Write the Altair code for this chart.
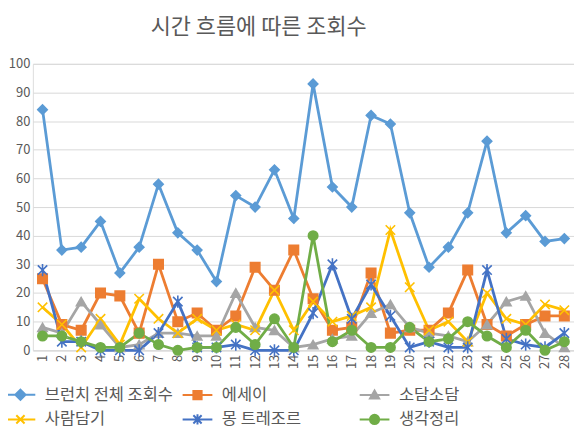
import altair as alt
import pandas as pd

days = list(range(1, 29))
series_names = ["브런치 전체 조회수", "에세이", "소담소담", "사람담기", "몽 트레조르", "생각정리"]
colors = ["#5B9BD5", "#ED7D31", "#A5A5A5", "#FFC000", "#4472C4", "#70AD47"]

total = [84, 35, 36, 45, 27, 36, 58, 41, 35, 24, 54, 50, 63, 46, 93, 57, 50, 82, 79, 48, 29, 36, 48, 73, 41, 47, 38, 39]
essay = [25, 9, 7, 20, 19, 6, 30, 10, 13, 7, 12, 29, 21, 35, 18, 7, 8, 27, 6, 7, 7, 13, 28, 9, 5, 9, 12, 12]
sodam = [8, 6, 17, 9, 1, 2, 6, 6, 5, 5, 20, 8, 7, 1, 2, 4, 5, 13, 16, 8, 6, 5, 3, 9, 17, 19, 6, 1]
saram = [15, 9, 1, 11, 2, 18, 11, 6, 11, 7, 9, 7, 21, 7, 17, 10, 12, 15, 42, 22, 7, 10, 3, 20, 11, 9, 16, 14]
mon = [28, 3, 3, 0, 0, 0, 6, 17, 1, 1, 2, 0, 0, 0, 13, 30, 11, 23, 12, 1, 3, 1, 1, 28, 4, 2, 1, 6]
think = [5, 5, 3, 1, 1, 6, 2, 0, 1, 1, 8, 2, 11, 1, 40, 3, 7, 1, 1, 8, 3, 4, 10, 5, 1, 7, 0, 3]

all_values = [total, essay, sodam, saram, mon, think]
rows = []
for name, vals in zip(series_names, all_values):
    for d, v in zip(days, vals):
        rows.append({"day": d, "series": name, "value": v})
df = pd.DataFrame(rows)

FONT = "Noto Sans CJK KR"
TXT = "#595959"

XPATH = "M-1,-1L1,1M-1,1L1,-1"
STAR = "M-1,-1L1,1M-1,1L1,-1M0,-1.3L0,1.3"
point_shapes = ["diamond", "square", "triangle-up", XPATH, STAR, "circle"]

# legend symbol paths (line + marker), unit = 11.5 px
L = "M-1.3,0L1.3,0"
leg_paths = [
    L + "M0,-0.45L0.45,0L0,0.45L-0.45,0Z",
    L + "M-0.36,-0.36H0.36V0.36H-0.36Z",
    L + "M0,-0.4L0.4,0.3H-0.4Z",
    L + "M-0.36,-0.36L0.36,0.36M-0.36,0.36L0.36,-0.36",
    L + "M-0.36,-0.36L0.36,0.36M-0.36,0.36L0.36,-0.36M0,-0.45L0,0.45",
    L + "M-0.4,0A0.4,0.4,0,1,0,0.4,0A0.4,0.4,0,1,0,-0.4,0Z",
]
sig = "'" + leg_paths[-1] + "'"
for n, p in reversed(list(zip(series_names[:-1], leg_paths[:-1]))):
    sig = "datum.value === '" + n + "' ? '" + p + "' : (" + sig + ")"

# legend fills column by column: reorder so rows read like the reference
legend_order = [0, 3, 1, 4, 2, 5]
dom = [series_names[i] for i in legend_order]
rng = [colors[i] for i in legend_order]
color_scale = alt.Scale(domain=dom, range=rng)

x_enc = alt.X(
    "day:O",
    scale=alt.Scale(type="point", padding=0.5),
    axis=alt.Axis(
        title=None, labelAngle=-90, labelAlign="right", labelBaseline="middle",
        labelFontSize=13, labelColor=TXT, labelFont=FONT, ticks=False,
        domainColor="#D9D9D9", labelPadding=4, grid=False,
    ),
)
y_enc = alt.Y(
    "value:Q",
    scale=alt.Scale(domain=[0, 100], nice=False),
    axis=alt.Axis(
        title=None, values=list(range(0, 101, 10)), ticks=False, domain=False,
        labelFontSize=13, labelColor=TXT, labelFont=FONT, gridColor="#D9D9D9",
        labelPadding=3,
    ),
)

lines = alt.Chart(df).mark_line(strokeWidth=2.8).encode(
    x=x_enc, y=y_enc,
    color=alt.Color(
        "series:N", scale=color_scale, sort=dom,
        legend=alt.Legend(
            title=None, orient="none", legendX=-25, legendY=320, columns=3,
            gridAlign="all", columnPadding=5, rowPadding=3,
            labelFont=FONT, labelFontSize=16.5, labelColor=TXT, labelOffset=12,
            symbolSize=529, symbolStrokeWidth=2, symbolOpacity=1,
            symbolType=alt.ExprRef(expr=sig),
            symbolFillColor=alt.ExprRef(expr="scale('color', datum.value)"),
        ),
    ),
    order=alt.Order("day:O"),
)

point_layers = []
for name, c, shp in zip(series_names, colors, point_shapes):
    point_layers.append(
        alt.Chart(df).transform_filter(alt.datum.series == name)
        .mark_point(filled=True, fill=c, stroke=c, shape=shp, opacity=1, strokeWidth=1.6, size=90)
        .encode(x=x_enc, y=y_enc)
    )

chart = alt.layer(lines, *point_layers).properties(
    width=544, height=288,
    padding={"left": 0, "top": 7, "right": 0, "bottom": 0},
    title=alt.Title("시간 흐름에 따른 조회수", font=FONT, fontSize=22, fontWeight="normal",
                    color=TXT, offset=19, dx=-45),
).configure_view(stroke=None).configure(background="white")

chart.save("out.html", embed_options={"renderer": "svg", "actions": False})
